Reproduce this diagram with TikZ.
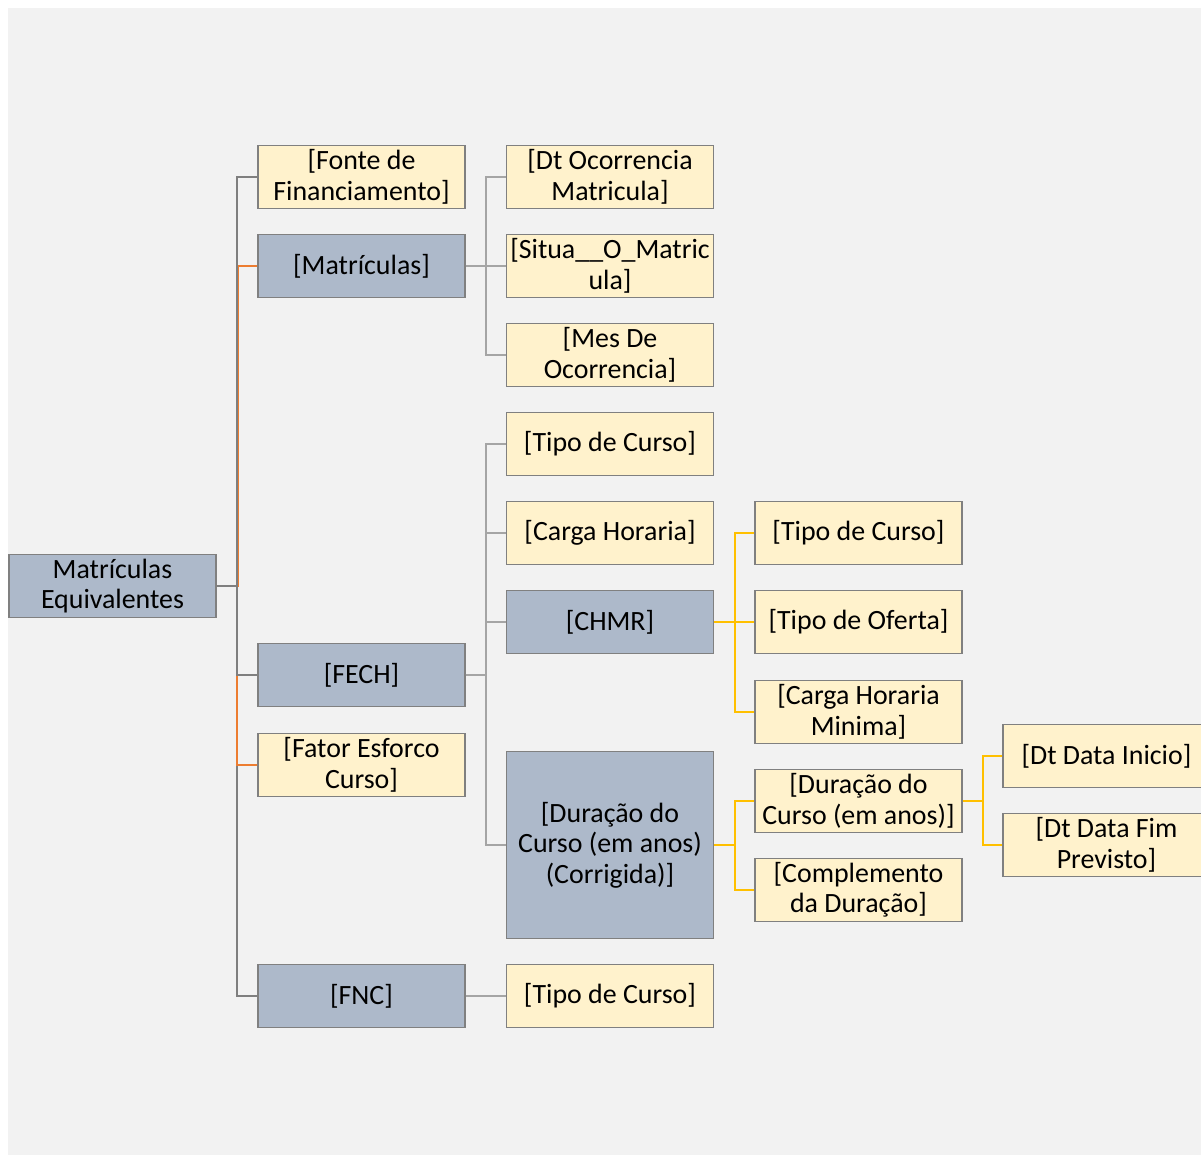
\documentclass[tikz,border=0pt]{standalone}
\usepackage{fontspec}
\setmainfont{Carlito}
\definecolor{pagebg}{HTML}{F2F2F2}
\definecolor{groupfill}{HTML}{ADB9CA}
\definecolor{fieldfill}{HTML}{FFF2CC}
\definecolor{boxline}{HTML}{808080}
\definecolor{trunkgray}{HTML}{7F7F7F}
\definecolor{lightgray}{HTML}{A5A5A5}
\definecolor{msorange}{HTML}{ED7D31}
\definecolor{msyellow}{HTML}{FFC000}
\tikzset{
  box/.style={draw=boxline, line width=1.2bp, minimum width=207bp, minimum height=63bp,
    align=center, inner sep=0pt, font=\fontsize{28}{30.5}\selectfont},
  groupbox/.style={box, fill=groupfill},
  fieldbox/.style={box, fill=fieldfill},
  trunk/.style={draw=trunkgray, line width=2.2bp},
  branch/.style={draw=lightgray, line width=2.2bp},
  hilite/.style={draw=msorange, line width=2.2bp},
  sublink/.style={draw=msyellow, line width=2.2bp}
}
\begin{document}
\begin{tikzpicture}[x=1bp,y=-1bp]
  \useasboundingbox (0,0) rectangle (1201,1155);
  \fill[pagebg] (8,8) rectangle (1201,1155);

  % root
  \node[groupbox] (root) at (112.5,586) {Matrículas\\Equivalentes};

  % first level
  \node[fieldbox] (fonte) at (361.5,177) {[Fonte de\\Financiamento]};
  \node[groupbox] (matr) at (361.5,266) {[Matrículas]};
  \node[groupbox] (fech) at (361.5,675) {[FECH]};
  \node[fieldbox] (fator) at (361.5,765) {[Fator Esforco\\Curso]};
  \node[groupbox] (fnc) at (361.5,996) {[FNC]};

  % second level
  \node[fieldbox] (dtocor) at (610,177) {[Dt Ocorrencia\\Matricula]};
  \node[fieldbox] (situa) at (610,266) {[Situa\_\_O\_Matric\\ula]};
  \node[fieldbox] (mesocor) at (610,355) {[Mes De\\Ocorrencia]};
  \node[fieldbox] (tipo1) at (610,444) {[Tipo de Curso]};
  \node[fieldbox] (carga) at (610,533) {[Carga Horaria]};
  \node[groupbox] (chmr) at (610,622) {[CHMR]};
  \node[groupbox, minimum height=187bp] (durcorr) at (610,845) {[Duração do\\Curso (em anos)\\(Corrigida)]};
  \node[fieldbox] (tipo2) at (610,996) {[Tipo de Curso]};

  % third level
  \node[fieldbox] (tipo3) at (858.5,533) {[Tipo de Curso]};
  \node[fieldbox] (oferta) at (858.5,622) {[Tipo de Oferta]};
  \node[fieldbox] (cargamin) at (858.5,712) {[Carga Horaria\\Minima]};
  \node[fieldbox] (duranos) at (858.5,801) {[Duração do\\Curso (em anos)]};
  \node[fieldbox] (compl) at (858.5,890) {[Complemento\\da Duração]};

  % fourth level
  \node[fieldbox] (inicio) at (1106.5,756) {[Dt Data Inicio]};
  \node[fieldbox] (fim) at (1106.5,845) {[Dt Data Fim\\Previsto]};

  % connectors
  \coordinate (j0) at (237,586);
  \coordinate (j1) at (486,266);
  \coordinate (j2) at (486,675);
  \coordinate (j3) at (735,622);
  \coordinate (j4) at (735,845);
  \coordinate (j5) at (983,801);

  \draw[trunk] (root.east) -- (j0) |- (fnc.west);
  \draw[hilite] (root.east) -- (j0) |- (fator.west);
  \draw[hilite] (root.east) -- ([xshift=1bp]j0) |- (matr.west);
  \draw[trunk] (root.east) -- (j0) |- (fonte.west);
  \draw[trunk] (root.east) -- (j0) |- (fech.west);

  \foreach \n in {dtocor,situa,mesocor}
    \draw[branch] (matr.east) -- (j1) |- (\n.west);
  \foreach \n in {tipo1,carga,chmr,durcorr}
    \draw[branch] (fech.east) -- (j2) |- (\n.west);
  \draw[branch] (fnc.east) -- (tipo2.west);

  \foreach \n in {tipo3,oferta,cargamin}
    \draw[sublink] (chmr.east) -- (j3) |- (\n.west);
  \foreach \n in {duranos,compl}
    \draw[sublink] (durcorr.east) -- (j4) |- (\n.west);
  \foreach \n in {inicio,fim}
    \draw[sublink] (duranos.east) -- (j5) |- (\n.west);
\end{tikzpicture}
\end{document}
